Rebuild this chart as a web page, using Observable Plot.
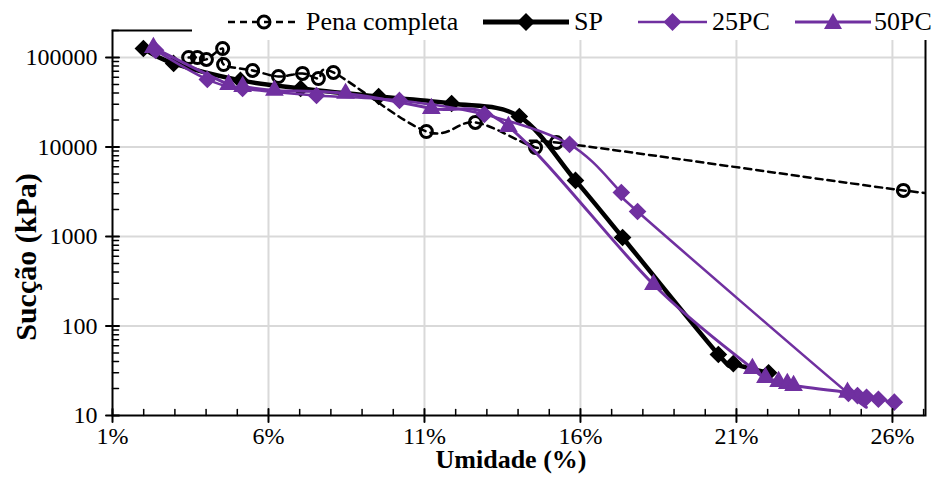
<!DOCTYPE html>
<html><head><meta charset="utf-8">
<script src="https://cdn.jsdelivr.net/npm/d3@7"></script>
<script src="https://cdn.jsdelivr.net/npm/@observablehq/plot@0.6"></script>
<style>
body{margin:0;background:#fff;font-family:"Liberation Serif","Times New Roman",serif;}
#wrap{position:relative;width:940px;height:477px;overflow:hidden;}
#legend{position:absolute;left:192px;top:4px;width:748px;height:36px;background:#fff;}
.sw{position:absolute;top:8px;}
.lt{position:absolute;top:0;height:36px;line-height:36px;font-size:26px;color:#000;white-space:nowrap;}
#ytitle{position:absolute;left:26px;top:257px;transform:translate(-50%,-50%) rotate(-90deg);font-weight:bold;font-size:30px;white-space:nowrap;line-height:1;color:#000;}
</style></head><body>
<div id="wrap"><div id="chart"></div><div id="legend"></div><div id="ytitle"></div></div>
<script>
// ---- data (Umidade %, Sucção kPa) ----
const penaX = [3.44, 3.72, 4.01, 4.53, 4.56, 5.49, 6.32, 7.09, 7.60, 8.08, 11.06, 12.63, 14.56, 15.23, 26.35, 28.0];
const penaY = [100000, 100000, 95000, 126000, 83500, 71600, 61300, 66300, 58200, 68000, 14900, 18800, 9870, 11200, 3270, 3050];
const spX = [1.99, 2.96, 5.10, 7.03, 9.53, 11.87, 14.04, 15.84, 17.35, 20.42, 20.90, 22.03];
const spY = [126000, 85700, 55400, 45000, 36600, 30600, 21900, 4230, 975, 48, 38, 30];
const pc25X = [2.38, 4.04, 5.17, 7.54, 10.20, 12.92, 15.65, 17.31, 17.83, 24.59, 24.88, 25.17, 25.55, 26.06];
const pc25Y = [120000, 56800, 45000, 37600, 33100, 23100, 10700, 3100, 1900, 17.6, 16.7, 16.0, 15.2, 14.1];
const pc50X = [2.31, 4.72, 5.17, 6.19, 8.47, 11.22, 13.69, 18.34, 21.51, 21.93, 22.35, 22.63, 22.83, 24.56];
const pc50Y = [129000, 49900, 47400, 42800, 39600, 26900, 16900, 291, 33.5, 26.6, 24.0, 22.8, 21.6, 18.1];
const xTicks = [1, 6, 11, 16, 21, 26];
const yTicks = [10, 100, 1000, 10000, 100000];
const seriesNames = ["Pena completa", "SP", "25PC", "50PC"];
const xTitle = "Umidade (%)";
const yTitle = "Sucção (kPa)";

const purple = "#7030A0";
const toRows = (xs, ys) => xs.map((x, i) => ({x, y: ys[i]}));
const pena = toRows(penaX, penaY), sp = toRows(spX, spY), pc25 = toRows(pc25X, pc25Y), pc50 = toRows(pc50X, pc50Y);

const xMinor = d3.range(2, 28).filter(d => !xTicks.includes(d));
const yMinor = [];
for (const k of [10, 100, 1000, 10000, 100000]) for (let m = 2; m <= 9; m++) if (m * k <= 200000) yMinor.push(m * k);

const tickShape = {draw(ctx, l) { ctx.moveTo(0, 0); ctx.lineTo(0, -l); }};
const curve = {curve: "cardinal", tension: 0};

const chart = Plot.plot({
  width: 940, height: 477,
  marginLeft: 112, marginRight: 15, marginTop: 30, marginBottom: 62,
  style: {fontFamily: "'Liberation Serif','Times New Roman',serif", fontSize: "24px", color: "black", background: "white"},
  x: {domain: [1, 27.06]},
  y: {type: "log", domain: [10, 200000]},
  marks: [
    Plot.ruleX(xTicks.slice(1), {stroke: "#d9d9d9", strokeWidth: 2}),
    Plot.ruleY(yTicks.slice(1), {stroke: "#d9d9d9", strokeWidth: 2}),
    Plot.axisX(xTicks, {tickSize: 0, tickPadding: 11, tickFormat: d => d + "%", label: null}),
    Plot.axisY(yTicks, {tickSize: 0, tickPadding: 15, tickFormat: d => String(d), label: null}),
    // Pena completa
    Plot.line(pena, {x: "x", y: "y", ...curve, stroke: "black", strokeWidth: 2.5, strokeDasharray: "7,5", clip: true}),
    Plot.dot(pena, {x: "x", y: "y", r: 6, stroke: "black", strokeWidth: 3, fill: "none", clip: true}),
    // SP
    Plot.line(sp, {x: "x", y: "y", ...curve, stroke: "black", strokeWidth: 4.5}),
    Plot.dot(sp, {x: "x", y: "y", symbol: "diamond2", r: 7, fill: "black", stroke: "black"}),
    // 25PC
    Plot.line(pc25, {x: "x", y: "y", ...curve, stroke: purple, strokeWidth: 2.5}),
    Plot.dot(pc25, {x: "x", y: "y", symbol: "diamond2", r: 7, fill: purple, stroke: purple}),
    // 50PC
    Plot.line(pc50, {x: "x", y: "y", ...curve, stroke: purple, strokeWidth: 3}),
    Plot.dot(pc50, {x: "x", y: "y", symbol: "triangle", r: 6, fill: purple, stroke: purple}),
    Plot.frame({stroke: "black", strokeWidth: 2}),
    // ticks
    Plot.vector(xMinor, {x: d => d, y: 10, length: 6, rotate: 0, anchor: "start", shape: tickShape, stroke: "black", strokeWidth: 1.5}),
    Plot.vector(xTicks, {x: d => d, y: 10, length: 13, rotate: 0, anchor: "middle", shape: tickShape, stroke: "black", strokeWidth: 2}),
    Plot.vector(yMinor, {x: 1, y: d => d, length: 6, rotate: 90, anchor: "start", shape: tickShape, stroke: "black", strokeWidth: 1.5}),
    Plot.vector(yTicks, {x: 1, y: d => d, length: 13, rotate: 90, anchor: "middle", shape: tickShape, stroke: "black", strokeWidth: 2}),
    // x title
    Plot.text([xTitle], {text: d => d, frameAnchor: "bottom", dx: -8, dy: 52, fontWeight: "bold", fontSize: 26})
  ]
});
document.getElementById("chart").appendChild(chart);
document.getElementById("ytitle").textContent = yTitle;

// ---- legend ----
const leg = document.getElementById("legend");
const ns = "http://www.w3.org/2000/svg";
function swatch(left, w, opts) {
  const s = document.createElementNS(ns, "svg");
  s.setAttribute("width", w); s.setAttribute("height", 20);
  s.setAttribute("class", "sw"); s.style.left = left + "px";
  let h = `<line x1="0" x2="${w}" y1="10" y2="10" stroke="${opts.color}" stroke-width="${opts.lw}" ${opts.dash ? `stroke-dasharray="${opts.dash}"` : ""}/>`;
  const c = w / 2;
  if (opts.m === "circle") h += `<circle cx="${c}" cy="10" r="6" fill="none" stroke="${opts.color}" stroke-width="3"/>`;
  if (opts.m === "diamond") h += `<path d="M${c},1L${c + 9},10L${c},19L${c - 9},10Z" fill="${opts.color}"/>`;
  if (opts.m === "triangle") h += `<path d="M${c},1L${c + 9},17L${c - 9},17Z" fill="${opts.color}"/>`;
  s.innerHTML = h; leg.appendChild(s);
}
function label(left, t) {
  const d = document.createElement("div"); d.className = "lt"; d.style.left = left + "px"; d.textContent = t; leg.appendChild(d);
}
swatch(36, 72, {color: "black", lw: 2.5, dash: "7,5", m: "circle"}); label(114, seriesNames[0]);
swatch(291, 86, {color: "black", lw: 5, m: "diamond"}); label(382, seriesNames[1]);
swatch(446, 69, {color: purple, lw: 2.5, m: "diamond"}); label(520, seriesNames[2]);
swatch(603, 76, {color: purple, lw: 3, m: "triangle"}); label(682, seriesNames[3]);
</script>
</body></html>
